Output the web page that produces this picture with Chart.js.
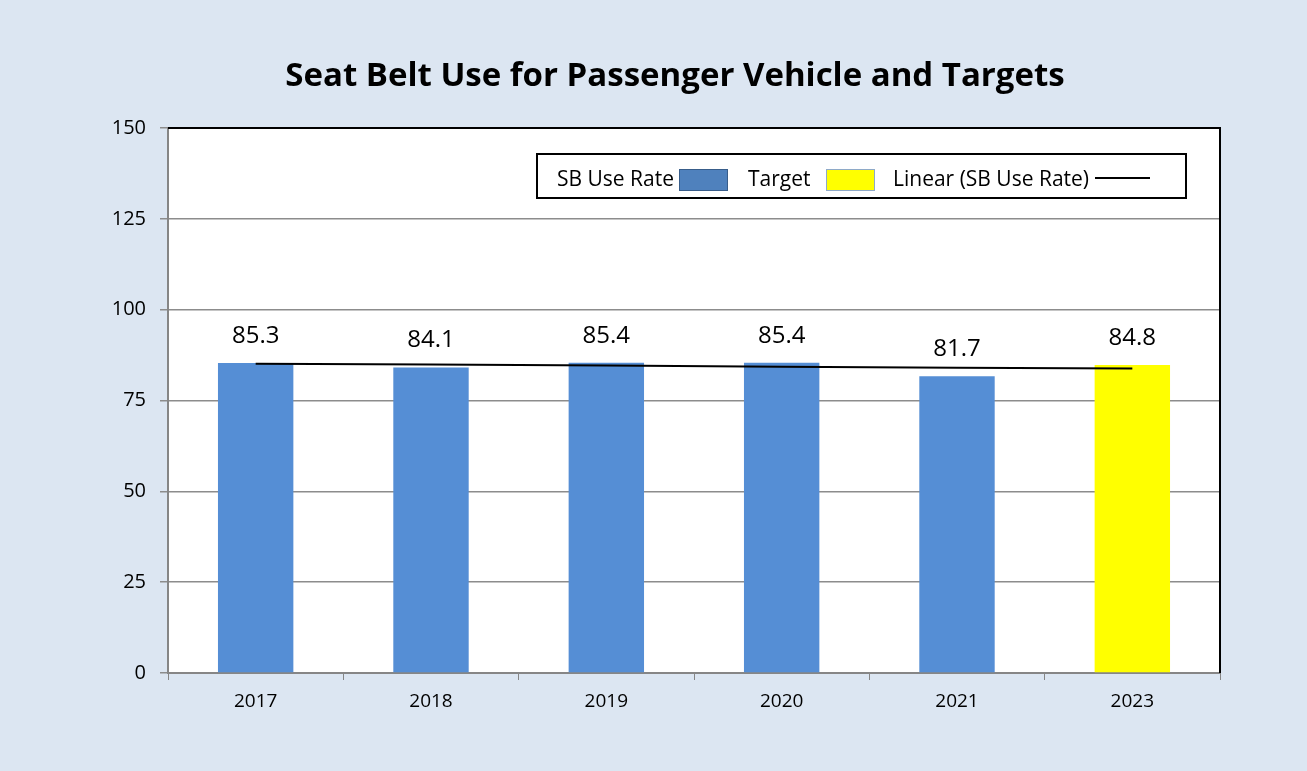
<!DOCTYPE html>
<html>
<head>
<meta charset="utf-8">
<script src="https://cdn.jsdelivr.net/npm/chart.js@4/dist/chart.umd.min.js"></script>
<style>
html,body{margin:0;padding:0;background:#dce6f2;}
#wrap{width:1307px;height:771px;position:relative;}
</style>
</head>
<body>
<div id="wrap"><canvas id="c" width="1307" height="771"></canvas></div>
<script>
const chartTitle = 'Seat Belt Use for Passenger Vehicle and Targets';
const years = ['2017','2018','2019','2020','2021','2023'];
const sbUseRate = [85.3, 84.1, 85.4, 85.4, 81.7, null];
const target = [null, null, null, null, null, 84.8];
const linearTrend = [85.1, 84.9, 84.6, 84.3, 84.0, 83.8];
const yTicks = [0, 25, 50, 75, 100, 125, 150];

const FONT = "'Open Sans', 'Liberation Sans', sans-serif";

const decor = {
  id: 'decor',
  beforeDraw(chart) {
    const ctx = chart.ctx, a = chart.chartArea;
    ctx.save();
    ctx.fillStyle = '#dce6f2';
    ctx.fillRect(0, 0, chart.width, chart.height);
    ctx.fillStyle = '#ffffff';
    ctx.fillRect(a.left, a.top, a.right - a.left, a.bottom - a.top);
    ctx.restore();
  },
  afterDatasetsDraw(chart) {
    const ctx = chart.ctx;
    ctx.save();
    ctx.font = '24px ' + FONT;
    ctx.fillStyle = '#000';
    ctx.textAlign = 'center';
    ctx.textBaseline = 'middle';
    [0, 1].forEach(di => {
      const meta = chart.getDatasetMeta(di);
      const ds = chart.data.datasets[di];
      meta.data.forEach((bar, i) => {
        const v = ds.data[i];
        if (v === null || v === undefined) return;
        ctx.fillText(v.toFixed(1), bar.x, bar.y - 27);
      });
    });
    ctx.restore();
  },
  afterDraw(chart) {
    const ctx = chart.ctx, a = chart.chartArea;
    ctx.save();
    ctx.strokeStyle = '#000';
    ctx.lineWidth = 2;
    ctx.beginPath();
    ctx.moveTo(a.left, a.top);
    ctx.lineTo(a.right, a.top);
    ctx.lineTo(a.right, a.bottom);
    ctx.stroke();
    // title
    ctx.font = 'bold 33px ' + FONT;
    ctx.textAlign = 'center';
    ctx.textBaseline = 'middle';
    ctx.fillStyle = '#000';
    ctx.fillText(chartTitle, 675, 77);
    // legend
    ctx.fillStyle = '#fff';
    ctx.fillRect(537, 154, 649, 44);
    ctx.strokeStyle = '#000';
    ctx.lineWidth = 2;
    ctx.strokeRect(537, 154, 649, 44);
    ctx.font = '21px ' + FONT;
    ctx.fillStyle = '#000';
    ctx.textAlign = 'left';
    ctx.textBaseline = 'middle';
    ctx.fillText('SB Use Rate', 557, 180);
    ctx.fillStyle = '#4f81bd';
    ctx.fillRect(679, 169, 48, 21);
    ctx.strokeStyle = '#385d8a';
    ctx.lineWidth = 1;
    ctx.strokeRect(679.5, 169.5, 48, 21);
    ctx.fillStyle = '#000';
    ctx.fillText('Target', 748, 180);
    ctx.fillStyle = '#ffff00';
    ctx.fillRect(826, 169, 48, 21);
    ctx.strokeStyle = '#8ea9c8';
    ctx.strokeRect(826.5, 169.5, 48, 21);
    ctx.fillStyle = '#000';
    ctx.fillText('Linear (SB Use Rate)', 893, 180);
    ctx.strokeStyle = '#000';
    ctx.lineWidth = 2;
    ctx.beginPath();
    ctx.moveTo(1095, 178);
    ctx.lineTo(1150, 178);
    ctx.stroke();
    ctx.restore();
  }
};

new Chart(document.getElementById('c'), {
  data: {
    labels: years,
    datasets: [
      { type: 'bar', label: 'SB Use Rate', data: sbUseRate, backgroundColor: '#558ed5',
        barPercentage: 0.43, categoryPercentage: 1.0, order: 2 },
      { type: 'bar', label: 'Target', data: target, backgroundColor: '#ffff00',
        barPercentage: 0.43, categoryPercentage: 1.0, order: 2 },
      { type: 'line', label: 'Linear (SB Use Rate)', data: linearTrend, borderColor: '#000',
        borderWidth: 2, pointRadius: 0, fill: false, tension: 0, order: 1 }
    ]
  },
  options: {
    responsive: false,
    animation: false,
    layout: { padding: { top: 128, right: 87, left: 0, bottom: 0 } },
    plugins: { legend: { display: false }, title: { display: false }, tooltip: { enabled: false } },
    scales: {
      x: {
        stacked: true,
        offset: true,
        grid: { offset: true, drawOnChartArea: false, drawTicks: true, tickLength: 7, color: '#868686' },
        border: { color: '#868686', width: 2 },
        ticks: { color: '#000', font: { family: FONT, size: 19 }, padding: 10, maxRotation: 0 },
        afterFit(s) { s.height = 98; }
      },
      y: {
        min: 0, max: 150,
        afterBuildTicks(s) { s.ticks = yTicks.map(v => ({ value: v })); },
        grid: { color: '#8c8c8c', lineWidth: 1.5, tickLength: 8 },
        border: { color: '#868686', width: 2 },
        ticks: { color: '#000', font: { family: FONT, size: 20 }, padding: 14 },
        afterFit(s) { s.width = 168; }
      }
    }
  },
  plugins: [decor]
});
</script>
</body>
</html>
